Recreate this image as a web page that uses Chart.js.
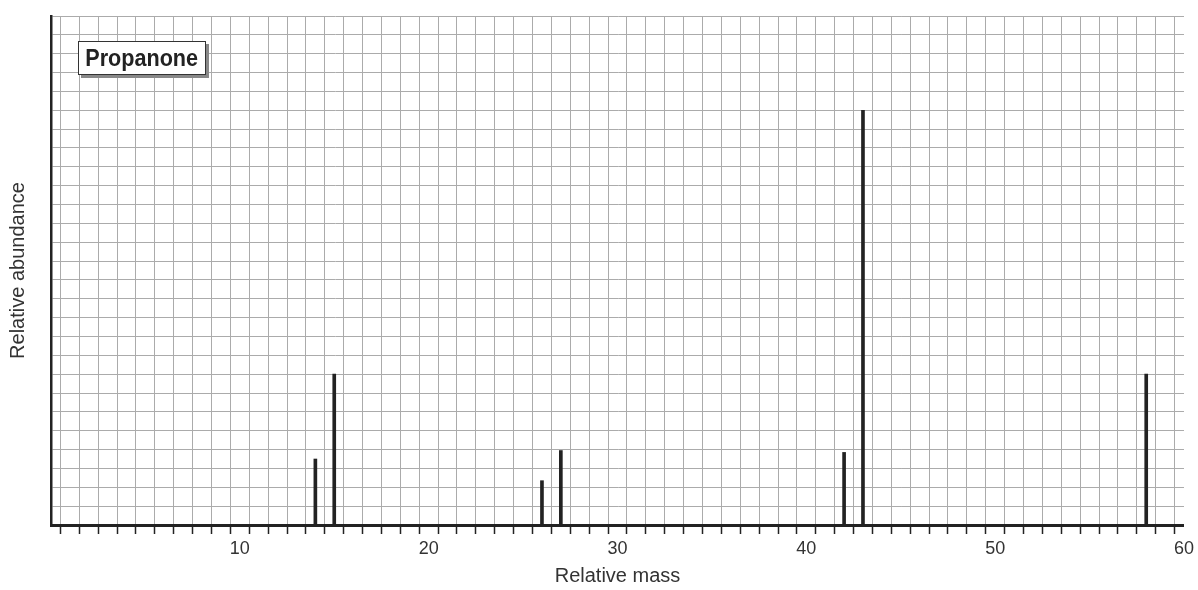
<!DOCTYPE html>
<html>
<head>
<meta charset="utf-8">
<script src="https://cdn.jsdelivr.net/npm/chart.js@4"></script>
<style>
  html, body { margin: 0; padding: 0; background: #fff; }
  #wrap { position: relative; width: 1198px; height: 590px; }
  #c { position: absolute; left: 0; top: 0; }
  #label {
    position: absolute; left: 78px; top: 41px; width: 126px; height: 32px;
    background: #fff; border: 1.5px solid #333;
    box-shadow: 3px 3px 0 #888;
    text-align: center; overflow: visible; white-space: nowrap;
  }
  #label span {
    display: inline-block;
    font-family: "Liberation Sans", Arial, sans-serif;
    font-weight: bold; font-size: 24px; line-height: 32px; color: #222;
    transform: scaleX(0.9); transform-origin: center;
  }
</style>
</head>
<body>
<div id="wrap">
  <canvas id="c" width="1198" height="590"></canvas>
  <div id="label"><span>Propanone</span></div>
</div>
<script>
// Data
const compoundName = "Propanone";
const masses = [14, 15, 26, 27, 42, 43, 58];
const abundances = [3.5, 8, 2.35, 3.95, 3.85, 22, 8];
const xTickLabels = [10, 20, 30, 40, 50, 60];
const xMin = 0, xMax = 60, yMin = 0, yMax = 27;

const peaks = masses.map((m, i) => ({ x: m, y: abundances[i] }));

new Chart(document.getElementById('c'), {
  type: 'bar',
  data: {
    datasets: [{
      label: compoundName,
      data: peaks,
      backgroundColor: '#222',
      borderWidth: 0,
      barThickness: 3
    }]
  },
  options: {
    responsive: false,
    devicePixelRatio: 1,
    animation: false,
    layout: { padding: { left: 0, top: 16, right: 12, bottom: 0 } },
    plugins: { legend: { display: false }, tooltip: { enabled: false } },
    scales: {
      x: {
        type: 'linear',
        min: xMin, max: xMax,
        offset: false,
        afterFit: (s) => { s.height = 65; },
        grid: {
          color: '#ababab', lineWidth: 1,
          drawTicks: true, tickLength: 9, tickColor: '#222', tickWidth: 1.5
        },
        border: { color: '#222', width: 3 },
        ticks: {
          stepSize: 1, autoSkip: false, maxRotation: 0, padding: 4,
          color: '#333',
          font: { family: '"Liberation Sans", Arial, sans-serif', size: 18 },
          callback: (v) => xTickLabels.includes(v) ? String(v) : ''
        },
        title: {
          display: true, text: 'Relative mass', color: '#333',
          font: { family: '"Liberation Sans", Arial, sans-serif', size: 20 },
          padding: { top: 0, bottom: 2 }
        }
      },
      y: {
        min: yMin, max: yMax,
        afterFit: (s) => { s.width = 51; },
        grid: { color: '#ababab', lineWidth: 1, drawTicks: false },
        border: { color: '#222', width: 2.5 },
        ticks: { display: false, stepSize: 1 },
        title: {
          display: true, text: 'Relative abundance', color: '#333',
          font: { family: '"Liberation Sans", Arial, sans-serif', size: 20 },
          padding: { top: 6, bottom: 0 }
        }
      }
    }
  }
});
</script>
</body>
</html>
